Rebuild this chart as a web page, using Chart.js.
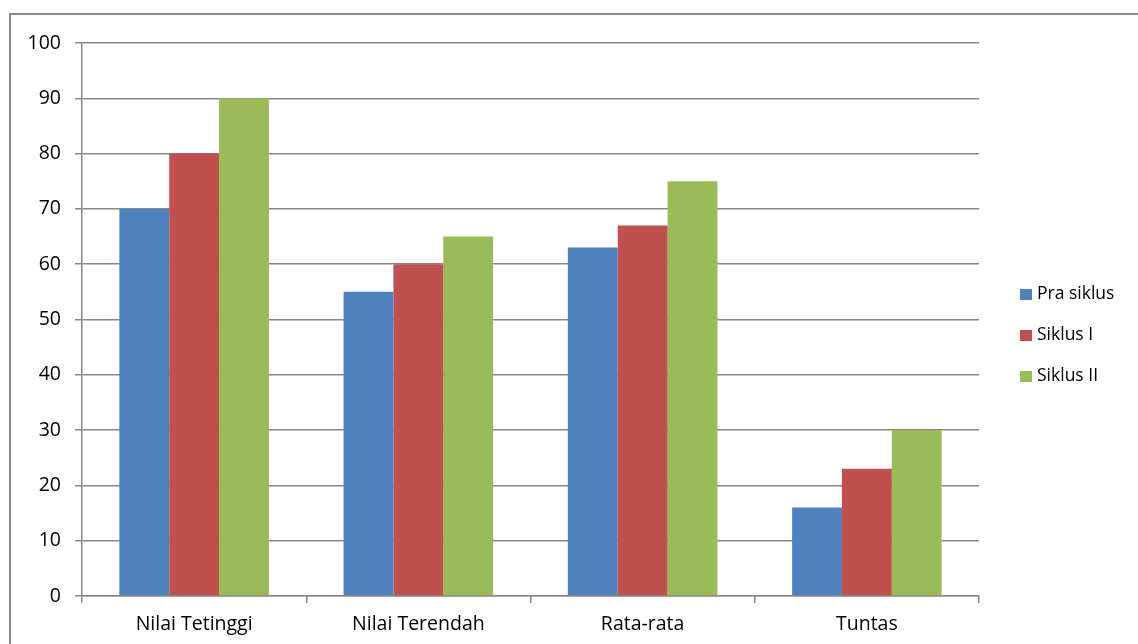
<!DOCTYPE html>
<html>
<head>
<meta charset="utf-8">
<script src="https://cdn.jsdelivr.net/npm/chart.js@4.4.1/dist/chart.umd.min.js"></script>
<style>
  html, body { margin: 0; padding: 0; background: #fff; overflow: hidden; }
  #frame { position: absolute; left: 9px; top: 13px; width: 1200px; height: 700px; border: 2px solid #8c8c8c; }
  #wrap { position: absolute; left: 0; top: 0; width: 1138px; height: 644px; }
</style>
</head>
<body>
<div id="frame"></div>
<div id="wrap"><canvas id="chart" width="1138" height="644"></canvas></div>
<script>
const categories = ['Nilai Tetinggi', 'Nilai Terendah', 'Rata-rata', 'Tuntas'];
const seriesNames = ['Pra siklus', 'Siklus I', 'Siklus II'];
const praSiklus = [70, 55, 63, 16];
const siklusI = [80, 60, 67, 23];
const siklusII = [90, 65, 75, 30];
const colors = ['#4f81bd', '#c0504d', '#9bbb59'];

const gridColor = '#878787';
const font = { family: 'Open Sans', size: 19.5 };

// legend drawn on the right, like the spreadsheet one
const sideLegend = {
  id: 'sideLegend',
  afterDraw(chart) {
    const ctx = chart.ctx;
    ctx.save();
    ctx.font = '17.5px "Open Sans"';
    ctx.textBaseline = 'middle';
    chart.data.datasets.forEach((ds, i) => {
      const y = 294 + i * 41;
      ctx.fillStyle = ds.backgroundColor;
      ctx.fillRect(1020, y - 5, 12, 11);
      ctx.fillStyle = '#000';
      ctx.fillText(ds.label, 1037, y);
    });
    ctx.restore();
  }
};

new Chart(document.getElementById('chart'), {
  type: 'bar',
  data: {
    labels: categories,
    datasets: [praSiklus, siklusI, siklusII].map((d, i) => ({
      label: seriesNames[i],
      data: d,
      backgroundColor: colors[i],
      borderWidth: 0,
      categoryPercentage: 0.667,
      barPercentage: 1.0,
    })),
  },
  options: {
    responsive: false,
    animation: false,
    layout: { padding: { top: 43, right: 159, left: 0, bottom: 0 } },
    plugins: { legend: { display: false }, tooltip: { enabled: false } },
    scales: {
      x: {
        grid: { drawOnChartArea: false, color: gridColor, tickLength: 7, lineWidth: 1.5 },
        border: { color: gridColor, width: 1.5 },
        ticks: { color: '#000', font: font, padding: 10 },
        afterFit(scale) { scale.height = 48; },
      },
      y: {
        min: 0,
        max: 100,
        ticks: { stepSize: 10, color: '#000', font: font, padding: 14 },
        grid: { color: gridColor, tickLength: 7, lineWidth: 1.5 },
        border: { color: gridColor, width: 1.5 },
        afterFit(scale) { scale.width = 82; },
      },
    },
  },
  plugins: [sideLegend],
});
</script>
</body>
</html>
